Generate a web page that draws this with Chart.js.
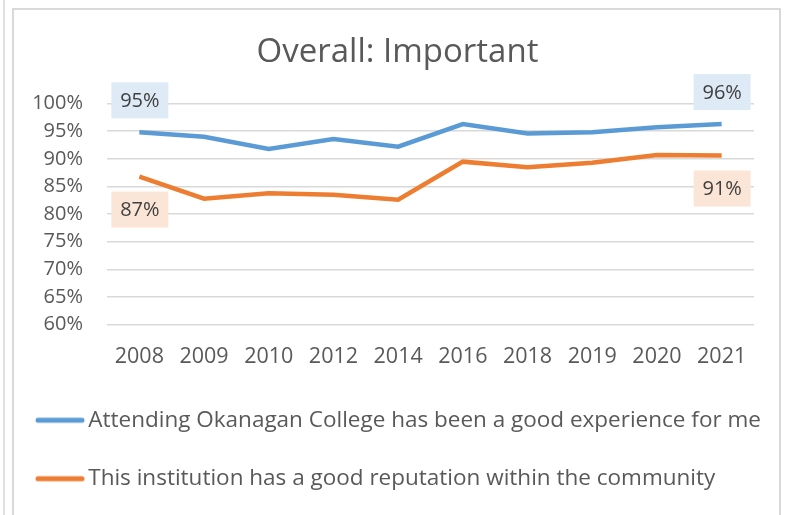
<!DOCTYPE html>
<html>
<head>
<meta charset="utf-8">
<script src="https://cdn.jsdelivr.net/npm/chart.js@4"></script>
<style>
  html, body { margin: 0; padding: 0; background: #fff; }
  #wrap { position: relative; width: 788px; height: 515px; overflow: hidden; }
  #frame { position: absolute; left: 12px; top: 8px; width: 769px; height: 520px; border: 2px solid #d9d9d9; box-sizing: border-box; }
  #edge { position: absolute; left: 3px; top: 0; width: 2px; height: 515px; background: #e0e0e0; }
  canvas { position: absolute; left: 0; top: 0; }
</style>
</head>
<body>
<div id="wrap">
  <div id="edge"></div>
  <div id="frame"></div>
  <canvas id="chart" width="788" height="515"></canvas>
</div>
<script>
const years = ['2008', '2009', '2010', '2012', '2014', '2016', '2018', '2019', '2020', '2021'];
const experience = [94.8, 94.0, 91.8, 93.6, 92.2, 96.3, 94.6, 94.8, 95.7, 96.3];
const reputation = [86.8, 82.8, 83.8, 83.5, 82.6, 89.5, 88.5, 89.3, 90.7, 90.6];
const seriesNames = [
  'Attending Okanagan College has been a good experience for me',
  'This institution has a good reputation within the community',
];
const FONT = "'Open Sans', sans-serif";
const TEXT = '#595959';

// legend swatch: a thick line that runs right up to the label text
function legendLine(color) {
  const c = document.createElement('canvas');
  c.width = 50;
  c.height = 8;
  const g = c.getContext('2d');
  g.strokeStyle = color;
  g.lineWidth = 5;
  g.lineCap = 'round';
  g.beginPath();
  g.moveTo(3, 4);
  g.lineTo(47, 4);
  g.stroke();
  return c;
}

// value boxes on the first and last point of each line
const endLabels = {
  id: 'endLabels',
  afterDatasetsDraw(chart) {
    const ctx = chart.ctx;
    const boxes = [
      { ds: 0, fill: '#deebf7', dy: -32 },
      { ds: 1, fill: '#fbe5d6', dy: 33 },
    ];
    ctx.save();
    ctx.font = '20px ' + FONT;
    ctx.textAlign = 'center';
    ctx.textBaseline = 'middle';
    boxes.forEach(b => {
      const meta = chart.getDatasetMeta(b.ds);
      const vals = chart.data.datasets[b.ds].data;
      [0, vals.length - 1].forEach(i => {
        const pt = meta.data[i];
        const txt = Math.round(vals[i]) + '%';
        const x = pt.x, y = pt.y + b.dy;
        ctx.fillStyle = b.fill;
        ctx.fillRect(x - 28, y - 18, 57, 36);
        ctx.fillStyle = '#404040';
        ctx.fillText(txt, x + 0.5, y + 1);
      });
    });
    ctx.restore();
  },
};

new Chart(document.getElementById('chart'), {
  type: 'line',
  data: {
    labels: years,
    datasets: [
      { label: seriesNames[0], data: experience, borderColor: '#5b9bd5', backgroundColor: '#5b9bd5', borderWidth: 4.5, pointRadius: 0, pointStyle: legendLine('#5b9bd5'), tension: 0 },
      { label: seriesNames[1], data: reputation, borderColor: '#ed7d31', backgroundColor: '#ed7d31', borderWidth: 4.5, pointRadius: 0, pointStyle: legendLine('#ed7d31'), tension: 0 },
    ],
  },
  plugins: [endLabels],
  options: {
    responsive: false,
    animation: false,
    layout: { padding: { left: 7, right: 0, top: 0, bottom: 15 } },
    plugins: {
      title: {
        display: true,
        text: 'Overall: Important',
        color: TEXT,
        font: { family: FONT, size: 33, weight: 'normal' },
        padding: { top: 33, bottom: 31 },
      },
      legend: {
        position: 'bottom',
        align: 'start',
        labels: {
          color: TEXT,
          font: { family: FONT, size: 22.5 },
          usePointStyle: true,
          pointStyleWidth: 34,
          padding: 36,
        },
      },
      tooltip: { enabled: false },
    },
    scales: {
      x: {
        offset: true,
        grid: { display: false },
        border: { display: false },
        ticks: { color: TEXT, font: { family: FONT, size: 21.5 }, padding: 11, maxRotation: 0, autoSkip: false },
        afterFit: s => { s.height -= 7.5; },
      },
      y: {
        min: 60,
        max: 100,
        grid: { color: '#d9d9d9', lineWidth: 1.5, drawTicks: false },
        border: { display: false },
        ticks: { stepSize: 5, autoSkip: false, color: TEXT, font: { family: FONT, size: 20 }, padding: 24, callback: v => v + '%' },
        afterFit: s => { s.width = 100; },
      },
      // empty right-hand margin so the legend can use the full width
      yRight: {
        position: 'right',
        min: 60,
        max: 100,
        grid: { display: false },
        border: { display: false },
        ticks: { display: false },
        afterFit: s => { s.width = 34; },
      },
    },
  },
});
</script>
</body>
</html>
